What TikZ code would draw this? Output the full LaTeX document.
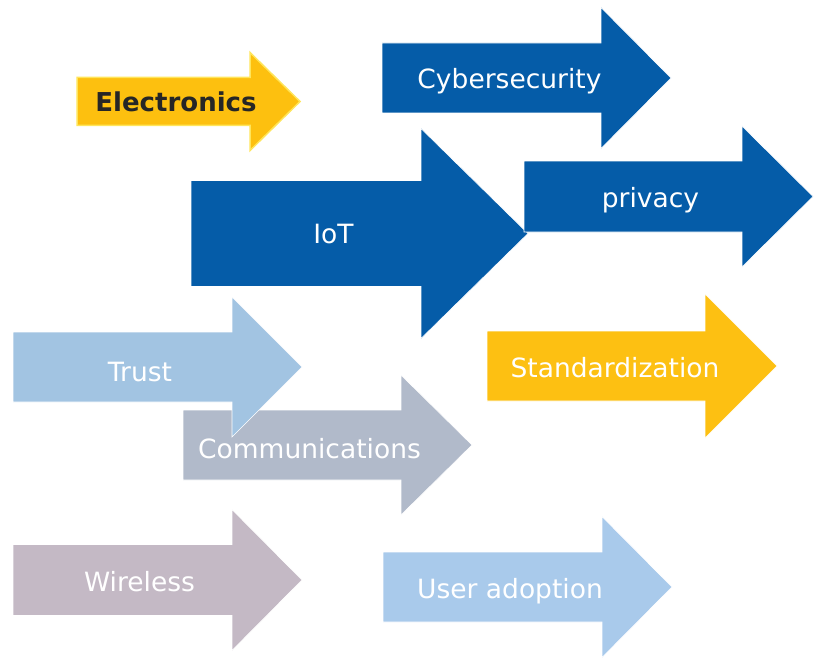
\documentclass[tikz,border=0pt]{standalone}
\usepackage{fontspec}
\setmainfont{DejaVu Sans}
\usetikzlibrary{positioning}
\definecolor{deepblue}{HTML}{055CA8}
\definecolor{paleblue}{HTML}{A2C4E2}
\definecolor{skyblue}{HTML}{A9CAEB}
\definecolor{sunyellow}{HTML}{FDC012}
\definecolor{goldfill}{HTML}{FDC00F}
\definecolor{goldedge}{HTML}{FFE55A}
\definecolor{slategrey}{HTML}{B1BACA}
\definecolor{mauvegrey}{HTML}{C4B9C5}
\tikzset{
  arrowbody/.style={draw=white,line width=0.6pt},
  arrowlabel/.style={font=\fontsize{26.5}{30}\selectfont,text=white,anchor=base,inner sep=0pt},
  boldlabel/.style={arrowlabel,font=\fontsize{26}{30}\selectfont\bfseries,text=black!85}
}
% style, left x, centre y, body half height, head x, head half height, tip x
\newcommand{\blockarrow}[7]{%
  \filldraw[arrowbody,#1] (#2,#3-#4) -- (#5,#3-#4) -- (#5,#3-#6) -- (#7,#3)
    -- (#5,#3+#6) -- (#5,#3+#4) -- (#2,#3+#4) -- cycle;}

\begin{document}
\begin{tikzpicture}[x=1pt,y=-1pt]
  \useasboundingbox (0,0) rectangle (819,658);
  \blockarrow{fill=goldfill,draw=goldedge,line width=1.5pt}{77}{101.5}{24}{250}{49}{300}
  \blockarrow{fill=deepblue}{382}{78}{35}{601}{70.5}{671}
  \blockarrow{fill=deepblue}{191}{233.5}{53}{421}{105}{528}
  \blockarrow{fill=deepblue}{524}{196.5}{35.5}{742}{70.5}{813}
  \blockarrow{fill=slategrey}{183}{445}{35}{401}{70}{472}
  \blockarrow{fill=paleblue}{13}{367}{35}{232}{70}{302}
  \blockarrow{fill=sunyellow}{487}{366}{35}{705}{72}{777}
  \blockarrow{fill=mauvegrey}{13}{580}{35.5}{232}{70.5}{302}
  \blockarrow{fill=skyblue}{383}{587}{35}{602}{70.5}{672}

  \node[boldlabel] (electronics) at (176,112) {Electronics};
  \node[arrowlabel] (cyber) at (509.5,89) {Cybersecurity};
  \node[arrowlabel] (iot) at (333.5,243) {IoT};
  \node[arrowlabel] (privacy) at (650.5,207) {privacy};
  \node[arrowlabel] (trust) at (140,381) {Trust};
  \node[arrowlabel] (standard) at (615,377) {Standardization};
  \node[arrowlabel] (comms) at (309.5,458) {Communications};
  \node[arrowlabel] (wireless) at (139.5,591) {Wireless};
  \node[arrowlabel] (adoption) at (510,598) {User adoption};
\end{tikzpicture}
\end{document}
